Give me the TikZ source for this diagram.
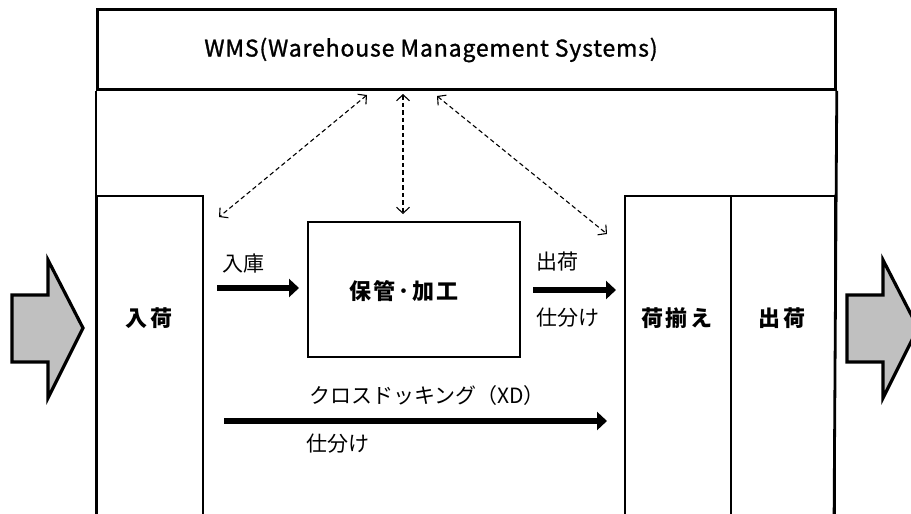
\documentclass[tikz,border=0pt]{standalone}
\usepackage{fontspec}
\setmainfont{Noto Sans CJK JP}
\newfontfamily\jpbold[LetterSpace=12]{Noto Sans CJK JP}
\newfontfamily\wmsfont[FakeBold=1.2,LetterSpace=3.7]{Noto Sans CJK JP}
\usetikzlibrary{arrows.meta}
\definecolor{arrowgray}{RGB}{192,192,192}
\begin{document}
\begin{tikzpicture}[x=1pt,y=-1pt,
  frameline/.style={draw,line width=2.8pt},
  box/.style={draw,line width=2.3pt,inner sep=0pt,anchor=north west},
  dasharrow/.style={line width=1.1pt,dash pattern=on 4.5pt off 3pt,
     {Straight Barb[length=6pt,width=13pt]}-{Straight Barb[length=6pt,width=13pt]}},
  thickarrow/.style={line width=6pt,-{Triangle[length=10pt,width=18pt]}},
  bigarrow/.style={draw,line width=3.2pt,fill=arrowgray,line join=miter},
  lab/.style={inner sep=0pt,font=\fontsize{21pt}{24pt}\selectfont},
  blab/.style={inner sep=0pt,font=\fontsize{22pt}{24pt}\selectfont\jpbold\bfseries},
  wmslab/.style={inner sep=0pt,font=\fontsize{23pt}{26pt}\selectfont\wmsfont}
]
\useasboundingbox (0,0) rectangle (911,514);
\clip (0,0) rectangle (911,514);

% WMS box and frame
\node[box,line width=2.8pt,minimum width=738pt,minimum height=80pt] (wms) at (96,8) {};
\draw[frameline] (wms.south west) -- (96,530);
\draw[frameline] (wms.south east) -- (834,530);
\node[wmslab] (wmstext) at (431,50) {WMS(Warehouse Management Systems)};

% boxes
\node[box,minimum width=106pt,minimum height=340pt] (nyuka) at (96,195) {};
\node[blab] (nyukat) at (149,318) {入荷};
\node[box,minimum width=212pt,minimum height=135pt] (hokan) at (307,221) {};
\node[blab] (hokant) at (404,291) {保管･加工};
\node[box,minimum width=106pt,minimum height=340pt] (soroe) at (624,195) {};
\node[blab] (soroet) at (677,318) {荷揃え};
\node[box,minimum width=104pt,minimum height=340pt] (shukka) at (730,195) {};
\node[blab] (shukkat) at (782,318) {出荷};

% dashed arrows
\coordinate (d1a) at (367,95);  \coordinate (d1b) at (219,217);
\coordinate (d2a) at (403,94);  \coordinate (d2b) at (403,214);
\coordinate (d3a) at (437,96);  \coordinate (d3b) at (607,234);
\draw[dasharrow] (d1a) -- (d1b);
\draw[dasharrow] (d2a) -- (d2b);
\draw[dasharrow] (d3a) -- (d3b);

% thick arrows
\coordinate (a1a) at (217,288); \coordinate (a1b) at (299,288);
\coordinate (a2a) at (533,290); \coordinate (a2b) at (616,290);
\coordinate (a3a) at (224,421); \coordinate (a3b) at (607,421);
\draw[thickarrow] (a1a) -- (a1b);
\draw[thickarrow] (a2a) -- (a2b);
\draw[thickarrow] (a3a) -- (a3b);

\node[lab] (nyuko) at (243,264) {入庫};
\node[lab] (shukkal) at (557,262) {出荷};
\node[lab] (shiwake1) at (568,318) {仕分け};
\node[lab] (xd) at (427,396) {クロスドッキング（XD）};
\node[lab] (shiwake2) at (338,444) {仕分け};

% big gray arrows
\draw[bigarrow] (12,295) -- (48,295) -- (48,260) -- (83,328) -- (48,398) -- (48,362) -- (12,362) -- cycle;
\draw[bigarrow] (847,295) -- (883,295) -- (883,260) -- (918,328) -- (883,398) -- (883,362) -- (847,362) -- cycle;
\end{tikzpicture}
\end{document}
